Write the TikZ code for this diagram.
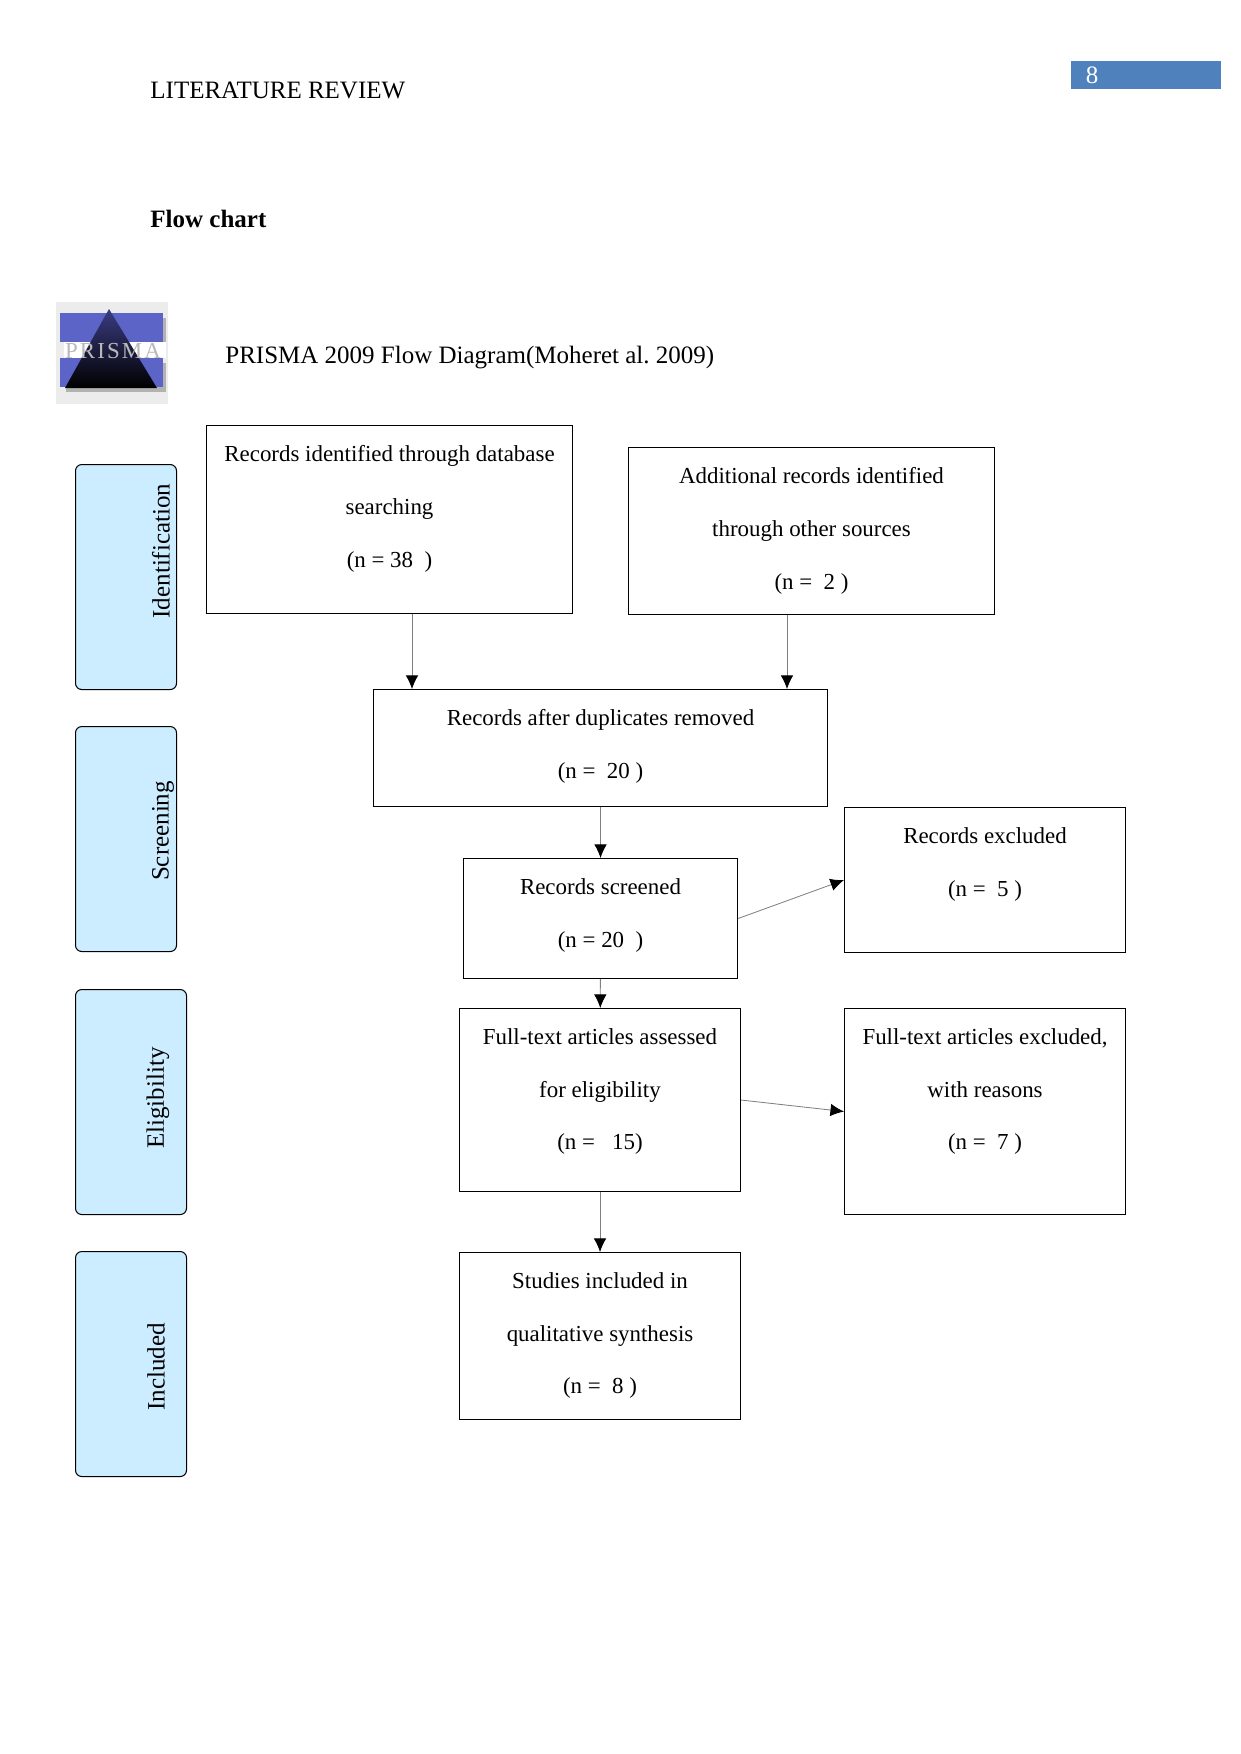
\documentclass[tikz,border=0pt]{standalone}
\usepackage{fontspec}
\setmainfont{Liberation Serif}
\usepackage{tikz}
\usetikzlibrary{shapes, arrows.meta, positioning}
\definecolor{sidefill}{RGB}{204, 236, 255}
\definecolor{pagefill}{RGB}{79, 129, 189}
\definecolor{logobar}{RGB}{92, 100, 200}
\definecolor{logonavy}{RGB}{58, 60, 130}
\newdimen\unitpx
\unitpx=0.48pt
% box text hangs from the top edge: width, height, lines
\newcommand{\blocktext}[3]{\parbox[c][#2\unitpx][t]{#1\unitpx}{\fontsize{11}{14}\selectfont\centering\vspace*{9.6pt}#3}}

\begin{document}
\begin{tikzpicture}[x=0.48pt, y=-0.48pt, font=\fontsize{12}{14}\selectfont]
    \tikzstyle{block} = [rectangle, draw, line width=0.5pt, inner sep=0pt, anchor=north west]
    \tikzstyle{side} = [rectangle, draw, line width=0.5pt, fill=sidefill, rounded corners=3pt, inner sep=0pt, anchor=north west]
    \tikzstyle{sidelabel} = [rotate=90, inner sep=0pt]
    \tikzstyle{heading} = [anchor=west, inner sep=0pt]
    \tikzstyle{arrow} = [draw=gray, line width=0.4pt, -{Latex[black, length=6.5pt, width=6pt]}]

    \useasboundingbox (0,0) rectangle (1241,1754);

    % running head
    \node [heading] (title) at (150,90) {LITERATURE REVIEW};
    \node [rectangle, fill=pagefill, minimum width=150\unitpx, minimum height=28\unitpx, anchor=north west, inner sep=0pt] (pagebar) at (1071,61) {};
    \node [text=white, inner sep=0pt] (pagenum) at (1092,75) {8};
    \node [heading, font=\fontsize{12}{14}\selectfont\bfseries] (flowhead) at (150,219) {Flow chart};
    \node [heading] (prismahead) at (225,358) {PRISMA 2009 Flow Diagram(Moheret al.\ 2009)};

    % logo
    \fill [gray!15] (56,302) rectangle (168,404);
    \fill [gray!60] (66,318) rectangle (166,347);
    \fill [gray!60] (66,363) rectangle (166,392);
    \fill [logobar] (60,313) rectangle (163,342);
    \fill [logobar] (60,358) rectangle (163,387);
    \fill [white] (64,342) rectangle (166,358);
    \shade [top color=logonavy, bottom color=black] (109,309) -- (157,388) -- (65,388) -- cycle;
    \node [text=gray!55, inner sep=0pt, font=\fontsize{11}{14}\selectfont] (logotext) at (113,351) {P\kern1pt R\kern1pt I\kern1pt S\kern1pt M\kern1pt A};

    % phase labels
    \node [side, minimum width=101\unitpx, minimum height=225\unitpx] (identside) at (75,464) {};
    \node [side, minimum width=101\unitpx, minimum height=225\unitpx] (screenside) at (75,726) {};
    \node [side, minimum width=111\unitpx, minimum height=225\unitpx] (eligside) at (75,989) {};
    \node [side, minimum width=111\unitpx, minimum height=225\unitpx] (inclside) at (75,1251) {};
    \node [sidelabel] (identtext) at (161,551) {Identification};
    \node [sidelabel] (screentext) at (163,831) {Screening};
    \node [sidelabel] (eligtext) at (158,1098) {Eligibility};
    \node [sidelabel] (incltext) at (156,1367) {Included};

    % flow boxes
    \node [block] (identified) at (206,425) {\blocktext{366}{188}{Records identified through database\\[11.3pt] searching\\[11.3pt] (n = 38\ \ )}};
    \node [block] (additional) at (628,447) {\blocktext{366}{167}{Additional records identified\\[11.3pt] through other sources\\[11.3pt] (n =\ \ 2 )}};
    \node [block] (dedup) at (373,689) {\blocktext{454}{117}{Records after duplicates removed\\[11.3pt] (n =\ \ 20 )}};
    \node [block] (screened) at (463,858) {\blocktext{274}{120}{Records screened\\[11.3pt] (n = 20\ \ )}};
    \node [block] (excluded) at (844,807) {\blocktext{281}{145}{Records excluded\\[11.3pt] (n =\ \ 5 )}};
    \node [block] (fulltext) at (459,1008) {\blocktext{281}{183}{Full-text articles assessed\\[11.3pt] for eligibility\\[11.3pt] (n =\ \ \ 15)}};
    \node [block] (reasons) at (844,1008) {\blocktext{281}{206}{Full-text articles excluded,\\[11.3pt] with reasons\\[11.3pt] (n =\ \ 7 )}};
    \node [block] (included) at (459,1252) {\blocktext{281}{167}{Studies included in\\[11.3pt] qualitative synthesis\\[11.3pt] (n =\ \ 8 )}};

    \coordinate (leftdrop) at (412,650);
    \coordinate (rightdrop) at (787,650);

    \draw [arrow] (identified.south -| leftdrop) -- (dedup.north -| leftdrop);
    \draw [arrow] (additional.south -| rightdrop) -- (dedup.north -| rightdrop);
    \draw [arrow] (dedup) -- (screened);
    \draw [arrow] (screened) -- (fulltext);
    \draw [arrow] (fulltext) -- (included);
    \draw [arrow] (screened.east) -- (excluded.west);
    \draw [arrow] (fulltext.east) -- (reasons.west);
\end{tikzpicture}
\end{document}
